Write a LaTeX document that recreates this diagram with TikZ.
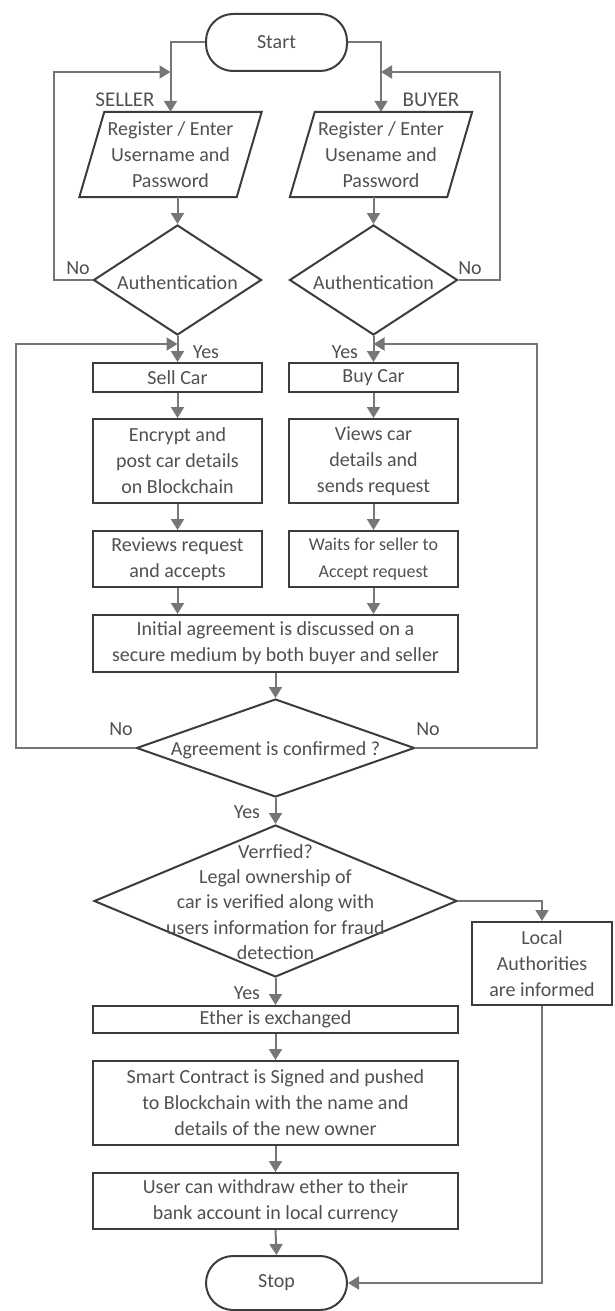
\documentclass[tikz,border=0pt]{standalone}
\usepackage{fontspec}
\setmainfont{Carlito}
\usetikzlibrary{shapes.geometric,arrows.meta}
\definecolor{txtc}{HTML}{505050}
\definecolor{linec}{HTML}{767676}
\definecolor{boxc}{HTML}{3C3C3C}
\tikzset{
  base/.style={font=\fontsize{20}{26}\selectfont, text=txtc, align=center, inner sep=0pt},
  box/.style={base, rectangle, draw=boxc, line width=2pt},
  term/.style={box, rounded corners=27pt, minimum width=141pt},
  dia/.style={diamond, draw=boxc, line width=2pt, inner sep=0pt},
  lbl/.style={base},
  conn/.style={draw=linec, line width=2pt, -{Triangle[width=13pt,length=11pt]}},
  plain/.style={draw=linec, line width=2pt},
  pgram/.style={draw=boxc, line width=2pt}
}
\begin{document}
\begin{tikzpicture}[x=1pt,y=-1pt]
\useasboundingbox (0,0) rectangle (614,1311);
% terminals
\node[term, minimum height=57pt] (start) at (276.5,42.5) {Start};
\node[term, minimum height=54pt] (stop) at (276.5,1283) {Stop};
% registration
\node[base, minimum width=157pt, minimum height=85pt] (sreg) at (170.5,154.5) {Register / Enter\\Username and\\Password};
\node[base, minimum width=157pt, minimum height=85pt] (breg) at (381,154.5) {Register / Enter\\Usename and\\Password};
\draw[pgram] ([xshift=12.5pt]sreg.north west) -- ([xshift=12.5pt]sreg.north east) -- ([xshift=-12.5pt]sreg.south east) -- ([xshift=-12.5pt]sreg.south west) -- cycle;
\draw[pgram] ([xshift=12.5pt]breg.north west) -- ([xshift=12.5pt]breg.north east) -- ([xshift=-12.5pt]breg.south east) -- ([xshift=-12.5pt]breg.south west) -- cycle;
\node[lbl, font=\fontsize{21}{26}\selectfont] (sellerlbl) at (125,100) {SELLER};
\node[lbl, font=\fontsize{21}{26}\selectfont] (buyerlbl) at (431,100) {BUYER};
% authentication
\node[dia, minimum width=168pt, minimum height=110pt] (sauth) at (177.5,280) {};
\node[base] (sauthT) at (177.5,283) {Authentication};
\node[dia, minimum width=168pt, minimum height=110pt] (bauth) at (373.5,280) {};
\node[base] (bauthT) at (373.5,283) {Authentication};
% seller column
\node[box, minimum width=169pt, minimum height=29pt] (sell) at (177.5,377.5) {Sell Car};
\node[box, minimum width=169pt, minimum height=84pt] (encr) at (177.5,461) {Encrypt and\\post car details\\on Blockchain};
\node[box, minimum width=169pt, minimum height=56pt] (revw) at (177.5,559) {Reviews request\\and accepts};
% buyer column
\node[box, minimum width=169pt, minimum height=29pt] (buy) at (373.5,377.5) {Buy Car};
\node[box, minimum width=169pt, minimum height=84pt] (views) at (373.5,461) {Views car\\details and\\sends request};
\node[box, minimum width=169pt, minimum height=56pt, font=\fontsize{18}{27}\selectfont] (waits) at (373.5,559) {Waits for seller to\\Accept request};
% main column
\node[box, minimum width=365pt, minimum height=57pt] (init) at (275.5,643.5) {Initial agreement is discussed on a\\secure medium by both buyer and seller};
\node[dia, minimum width=278pt, minimum height=98pt] (agree) at (275.5,748) {};
\node[base] (agreeT) at (275.5,750) {Agreement is confirmed ?};
\node[dia, minimum width=363pt, minimum height=152pt] (vfy) at (275.5,901) {};
\node[base, font=\fontsize{20}{25.2}\selectfont] (vfyT) at (275.5,902) {Verrfied?\\Legal ownership of\\car is verified along with\\users information for fraud\\detection};
\node[box, minimum width=140pt, minimum height=83pt] (local) at (542,963.5) {Local\\Authorities\\are informed};
\node[box, minimum width=365pt, minimum height=27pt] (ether) at (275.5,1019.5) {Ether is exchanged};
\node[box, minimum width=365pt, minimum height=84pt] (smart) at (275.5,1103) {Smart Contract is Signed and pushed\\to Blockchain with the name and\\details of the new owner};
\node[box, minimum width=365pt, minimum height=56pt] (wdraw) at (275.5,1201) {User can withdraw ether to their\\bank account in local currency};
% free ends of loops
\coordinate (sIn) at (170.5,72);
\coordinate (bIn) at (381,72);
\coordinate (sYes) at (177.5,344);
\coordinate (bYes) at (373.5,344);
% connectors
\draw[conn] (start.west) -| (sreg.north);
\draw[conn] (start.east) -| (breg.north);
\draw[conn] (sreg.south -| sauth.north) -- (sauth.north);
\draw[conn] (breg.south -| bauth.north) -- (bauth.north);
\draw[conn] (sauth.west) -- ++(-39,0) |- (sIn);
\draw[conn] (bauth.east) -- ++(41,0) |- (bIn);
\draw[conn] (sauth.south) -- (sell.north);
\draw[conn] (bauth.south) -- (buy.north);
\draw[conn] (sell.south) -- (encr.north);
\draw[conn] (encr.south) -- (revw.north);
\draw[conn] (revw.south) -- (revw.south |- init.north);
\draw[conn] (buy.south) -- (views.north);
\draw[conn] (views.south) -- (waits.north);
\draw[conn] (waits.south) -- (waits.south |- init.north);
\draw[conn] (init.south) -- (agree.north);
\draw[conn] (agree.west) -- (16,748) |- (sYes);
\draw[conn] (agree.east) -- (537,748) |- (bYes);
\draw[conn] (agree.south) -- (vfy.north);
\draw[conn] (vfy.east) -| (local.north);
\draw[conn] (vfy.south) -- (ether.north);
\draw[conn] (ether.south) -- (smart.north);
\draw[conn] (smart.south) -- (wdraw.north);
\draw[conn] (wdraw.south) -- (stop.north);
\draw[conn] (local.south) |- (stop.east);
% labels
\node[lbl] (no1) at (78,268) {No};
\node[lbl] (no2) at (470,268) {No};
\node[lbl] (yes1) at (206,352) {Yes};
\node[lbl] (yes2) at (345,352) {Yes};
\node[lbl] (no3) at (121,729) {No};
\node[lbl] (no4) at (428,729) {No};
\node[lbl] (yes3) at (247,812) {Yes};
\node[lbl] (yes4) at (247,993) {Yes};
\end{tikzpicture}
\end{document}
